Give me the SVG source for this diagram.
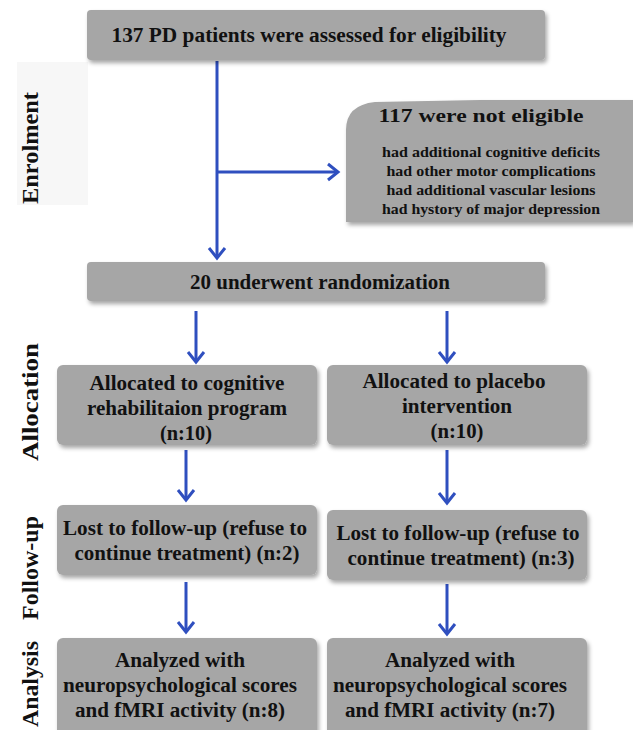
<svg xmlns="http://www.w3.org/2000/svg" width="633" height="730" viewBox="0 0 633 730">
<defs>
<filter id="sh" x="-10%" y="-10%" width="120%" height="130%">
<feDropShadow dx="2" dy="3" stdDeviation="2" flood-color="#000" flood-opacity="0.35"/>
</filter>
<marker id="ah" markerUnits="userSpaceOnUse" markerWidth="20" markerHeight="20" viewBox="0 0 20 20" refX="14" refY="10" orient="auto">
<path d="M4,2 L14,10 L4,18" fill="none" stroke="#2f4fbf" stroke-width="3" stroke-linejoin="miter"/>
</marker>
<style>
.box{fill:#a6a6a6;filter:url(#sh);}
.t{font-family:"Liberation Serif","Times New Roman",serif;font-weight:bold;fill:#111;text-anchor:middle;}
.m{font-size:20px;}
.s{font-size:14px;}
.lab{font-family:"Liberation Serif","Times New Roman",serif;font-weight:bold;fill:#111;text-anchor:middle;font-size:23px;}
.c{fill:none;stroke:#2f4fbf;stroke-width:3;marker-end:url(#ah);}
</style>
</defs>
<rect width="633" height="730" fill="#fff"/>

<g id="stage-labels">
<rect x="17" y="62" width="71" height="143" fill="#f7f7f7"/>
<text class="lab" transform="translate(38,148) rotate(-90)" textLength="112" lengthAdjust="spacingAndGlyphs">Enrolment</text>
<text class="lab" transform="translate(38,402) rotate(-90)" textLength="118" lengthAdjust="spacingAndGlyphs">Allocation</text>
<text class="lab" transform="translate(38,568) rotate(-90)" textLength="104" lengthAdjust="spacingAndGlyphs">Follow-up</text>
<text class="lab" transform="translate(38,684) rotate(-90)" textLength="86" lengthAdjust="spacingAndGlyphs">Analysis</text>
</g>

<g id="connectors">
<path class="c" d="M217,61 V258"/>
<path class="c" d="M217,172 H338"/>
<path class="c" d="M196,311 V362"/>
<path class="c" d="M447,311 V362"/>
<path class="c" d="M186,450 V500"/>
<path class="c" d="M447,450 V503"/>
<path class="c" d="M186,582 V632"/>
<path class="c" d="M447,584 V634"/>
</g>

<g id="n-assessed">
<rect class="box" x="87" y="10" width="458" height="50" rx="4"/>
<text class="t m" x="309" y="42" textLength="395" lengthAdjust="spacingAndGlyphs">137 PD patients were assessed for eligibility</text>
</g>

<g id="n-not-eligible">
<path class="box" d="M346,222 V130 Q346,105 375,102 L480,100 L633,100 V222 Z"/>
<text class="t" x="481" y="122" font-size="19" textLength="205" lengthAdjust="spacingAndGlyphs">117 were not eligible</text>
<text class="t s" x="491" y="157" textLength="218" lengthAdjust="spacingAndGlyphs">had additional cognitive deficits</text>
<text class="t s" x="491" y="176" textLength="209" lengthAdjust="spacingAndGlyphs">had other motor complications</text>
<text class="t s" x="491" y="195" textLength="209" lengthAdjust="spacingAndGlyphs">had additional vascular lesions</text>
<text class="t s" x="491" y="214" textLength="218" lengthAdjust="spacingAndGlyphs">had hystory of major depression</text>
</g>

<g id="n-random">
<rect class="box" x="87" y="262" width="458" height="39" rx="4"/>
<text class="t m" x="320" y="289" textLength="260" lengthAdjust="spacingAndGlyphs">20 underwent randomization</text>
</g>

<g id="n-alloc-cog">
<rect class="box" x="57" y="365" width="260" height="80" rx="6"/>
<text class="t m" x="187" y="390" textLength="195" lengthAdjust="spacingAndGlyphs">Allocated to cognitive</text>
<text class="t m" x="187" y="415" textLength="200" lengthAdjust="spacingAndGlyphs">rehabilitaion program</text>
<text class="t m" x="186" y="440" textLength="52" lengthAdjust="spacingAndGlyphs">(n:10)</text>
</g>

<g id="n-alloc-plac">
<rect class="box" x="327" y="365" width="260" height="80" rx="6"/>
<text class="t m" x="454" y="388" textLength="183" lengthAdjust="spacingAndGlyphs">Allocated to placebo</text>
<text class="t m" x="457" y="413" textLength="110" lengthAdjust="spacingAndGlyphs">intervention</text>
<text class="t m" x="457" y="438" textLength="53" lengthAdjust="spacingAndGlyphs">(n:10)</text>
</g>

<g id="n-lost-cog">
<rect class="box" x="57" y="505" width="260" height="70" rx="6"/>
<text class="t m" x="185" y="535" textLength="244" lengthAdjust="spacingAndGlyphs">Lost to follow-up (refuse to</text>
<text class="t m" x="187" y="560" textLength="225" lengthAdjust="spacingAndGlyphs">continue treatment) (n:2)</text>
</g>

<g id="n-lost-plac">
<rect class="box" x="327" y="510" width="260" height="70" rx="6"/>
<text class="t m" x="458" y="540" textLength="243" lengthAdjust="spacingAndGlyphs">Lost to follow-up (refuse to</text>
<text class="t m" x="461" y="565" textLength="227" lengthAdjust="spacingAndGlyphs">continue treatment) (n:3)</text>
</g>

<g id="n-anal-cog">
<rect class="box" x="57" y="638" width="260" height="100" rx="6"/>
<text class="t m" x="180" y="667" textLength="130" lengthAdjust="spacingAndGlyphs">Analyzed with</text>
<text class="t m" x="180" y="692" textLength="234" lengthAdjust="spacingAndGlyphs">neuropsychological scores</text>
<text class="t m" x="180" y="717" textLength="210" lengthAdjust="spacingAndGlyphs">and fMRI activity (n:8)</text>
</g>

<g id="n-anal-plac">
<rect class="box" x="327" y="638" width="260" height="100" rx="6"/>
<text class="t m" x="450" y="667" textLength="130" lengthAdjust="spacingAndGlyphs">Analyzed with</text>
<text class="t m" x="450" y="692" textLength="234" lengthAdjust="spacingAndGlyphs">neuropsychological scores</text>
<text class="t m" x="450" y="717" textLength="210" lengthAdjust="spacingAndGlyphs">and fMRI activity (n:7)</text>
</g>
</svg>
